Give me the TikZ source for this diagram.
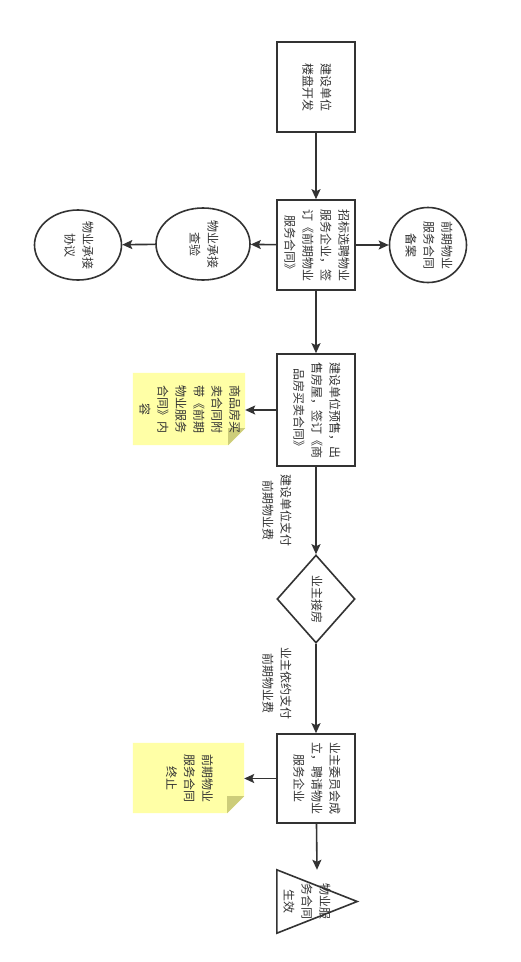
\documentclass[tikz,border=0pt]{standalone}
\usepackage{fontspec}
\newfontfamily\cjk{Noto Sans CJK SC}
\usetikzlibrary{shapes.geometric,arrows.meta,backgrounds}
\definecolor{ln}{HTML}{333333}
\definecolor{notey}{HTML}{FFFFA6}
\definecolor{foldy}{HTML}{CDCD7A}
\newcommand\vtext[1]{\rotatebox[origin=c]{-90}{\begin{tabular}{@{}c@{}}#1\end{tabular}}}
\begin{document}
\begin{tikzpicture}[x=1pt,y=-1pt,
  every node/.style={font=\cjk\fontsize{12}{18}\selectfont, text=ln},
  proc/.style={draw=ln, line width=1.6pt, fill=white, rectangle, inner sep=0pt, minimum width=78pt},
  oval/.style={draw=ln, line width=1.6pt, fill=white, ellipse, inner sep=0pt},
  arr/.style={draw=ln, line width=1.6pt, -{Stealth[length=10pt,width=9pt,inset=2pt]}},
  notebox/.style={inner sep=0pt}]
\useasboundingbox (0,0) rectangle (521,962);

\node[proc, minimum height=90pt] (b1) at (316,87) {\vtext{建设单位\\楼盘开发}};
\node[proc, minimum height=90pt] (b2) at (316,245) {\vtext{招标选聘物业\\服务企业，签\\订《前期物业\\服务合同》}};
\node[oval, minimum width=94pt, minimum height=72pt] (e1) at (203,244) {\vtext{物业承接\\查验}};
\node[oval, minimum width=87pt, minimum height=70pt] (e2) at (78,245) {\vtext{物业承接\\协议}};
\node[oval, minimum width=77pt, minimum height=75pt] (e3) at (428,245) {\vtext{前期物业\\服务合同\\备案}};
\node[proc, minimum height=112pt] (b3) at (316,410) {\vtext{建设单位预售，出\\售房屋，签订《商\\品房买卖合同》}};
\node[notebox, minimum width=112pt, minimum height=72pt] (n1) at (189,409) {\vtext{商品房买\\卖合同附\\带《前期\\物业服务\\合同》内\\容}};
\node[draw=ln, line width=1.6pt, fill=white, diamond, inner sep=0pt, minimum width=78pt, minimum height=88pt] (dia) at (316,599) {\vtext{业主接房}};
\node[proc, minimum height=89pt] (b4) at (316,778.5) {\vtext{业主委员会成\\立，聘请物业\\服务企业}};
\node[notebox, minimum width=111pt, minimum height=70pt] (n2) at (188.5,778) {\vtext{前期物业\\服务合同\\终止}};
\node[inner sep=0pt, minimum width=80pt, minimum height=63pt] (tri) at (317,901.5) {};
\draw[ln, line width=1.6pt] (tri.north west) -- (tri.east) -- (tri.south west) -- cycle;
\node (trit) at (306,901) {\vtext{物业服\\务合同\\生效}};

\begin{scope}[on background layer]
  \fill[white] (0,0) rectangle (521,962);
  \foreach \n in {n1,n2}{
    \fill[notey] (\n.north west) -- (\n.north east) -- ([yshift=17pt]\n.south east) -- ([xshift=-17pt]\n.south east) -- (\n.south west) -- cycle;
    \fill[foldy] ([yshift=17pt]\n.south east) -- ([xshift=-17pt,yshift=17pt]\n.south east) -- ([xshift=-17pt]\n.south east) -- cycle;
  }
\end{scope}

\draw[arr] (b1) -- (b2);
\draw[arr] (b2) -- (e1);
\draw[arr] (e1) -- (e2);
\draw[arr] (b2) -- (e3);
\draw[arr] (b2) -- (b3);
\draw[arr] (b3) -- (n1.east |- b3);
\draw[arr] (b3) -- node[xshift=-40pt] (l1) {\vtext{建设单位支付\\前期物业费}} (dia);
\draw[arr] (dia) -- node[xshift=-40pt, yshift=5pt] (l2) {\vtext{业主依约支付\\前期物业费}} (b4);
\draw[arr] (b4) -- (n2.east |- b4);
\draw[arr] (b4) -- (tri.north);
\end{tikzpicture}
\end{document}
